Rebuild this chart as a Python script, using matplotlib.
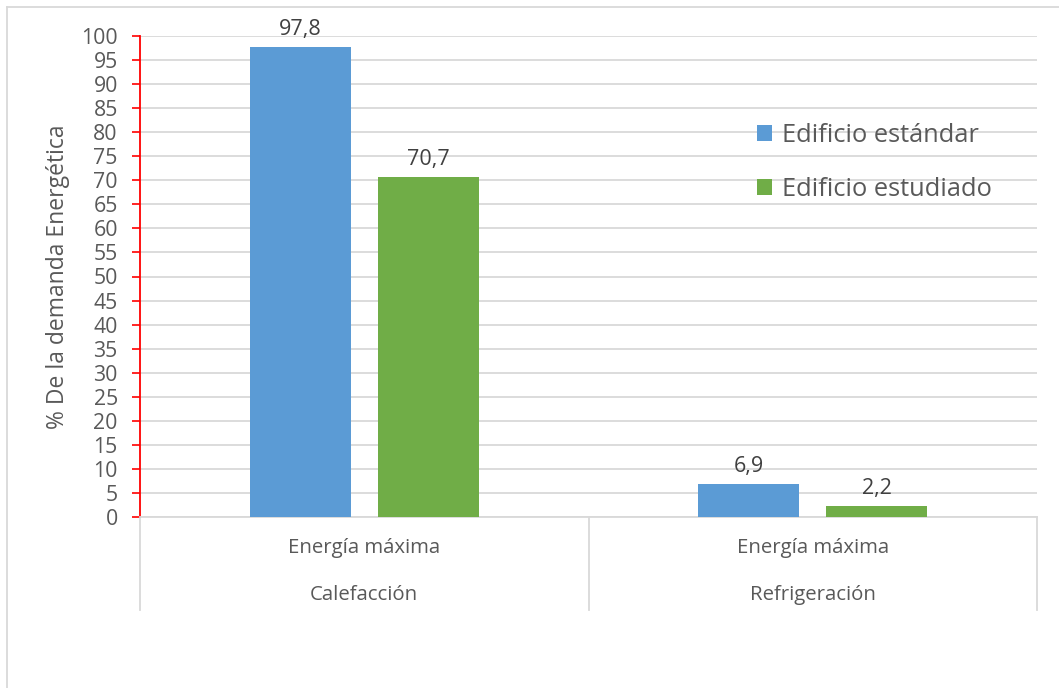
import matplotlib
matplotlib.use("Agg")
import matplotlib.pyplot as plt
from matplotlib.lines import Line2D
import numpy as np

plt.rcParams['font.family'] = ['Open Sans', 'DejaVu Sans']

groups = ["Calefacción", "Refrigeración"]
sublabels = ["Energía máxima", "Energía máxima"]
series_names = ["Edificio estándar", "Edificio estudiado"]
estandar = [97.8, 6.9]
estudiado = [70.7, 2.2]
value_labels_estandar = ["97,8", "6,9"]
value_labels_estudiado = ["70,7", "2,2"]
yticks = list(range(0, 101, 5))

blue = "#5B9BD5"
green = "#70AD47"
txt = "#595959"
grid = "#D9D9D9"

fig = plt.figure(figsize=(10.59, 6.88), dpi=100)
ax = fig.add_axes([140/1059, 171/688, 897/1059, 481/688])

x = np.arange(len(groups))
w = 0.225
off = 0.1425
b1 = ax.bar(x - off, estandar, w, color=blue, label=series_names[0], zorder=3)
b2 = ax.bar(x + off, estudiado, w, color=green, label=series_names[1], zorder=3)

for rect, lab in zip(b1, value_labels_estandar):
    ax.annotate(lab, (rect.get_x() + rect.get_width()/2, rect.get_height()),
                xytext=(0, 5), textcoords="offset points", ha="center", va="bottom",
                fontsize=15.5, color="#404040")
for rect, lab in zip(b2, value_labels_estudiado):
    ax.annotate(lab, (rect.get_x() + rect.get_width()/2, rect.get_height()),
                xytext=(0, 5), textcoords="offset points", ha="center", va="bottom",
                fontsize=15.5, color="#404040")

ax.set_xlim(-0.5, 1.5)
ax.set_ylim(0, 100)
ax.set_yticks(yticks)
ax.set_yticklabels([str(t) for t in yticks], fontsize=15.3, color=txt)
ax.tick_params(axis='y', colors='red', length=6, width=1.2, pad=10, labelcolor=txt)
ax.set_xticks([])
ax.yaxis.grid(True, color=grid, linewidth=1.3, zorder=0)
for s in ["top", "right"]:
    ax.spines[s].set_visible(False)
ax.spines["left"].set_color("red")
ax.spines["left"].set_linewidth(1.3)
ax.spines["bottom"].set_color(grid)
ax.spines["bottom"].set_linewidth(1.3)

ax.set_ylabel("% De la demanda Energética", fontsize=16.5, color=txt, labelpad=8)

# two-level category axis
trans = ax.get_xaxis_transform()
for xs in [-0.5, 0.5, 1.5]:
    ax.add_line(Line2D([xs, xs], [0, -93/481], transform=trans, color=grid,
                       linewidth=1.3, clip_on=False))
for xi, sub, grp in zip(x, sublabels, groups):
    ax.text(xi, -31/481, sub, transform=trans, ha="center", va="center",
            fontsize=14.7, color=txt)
    ax.text(xi, -78/481, grp, transform=trans, ha="center", va="center",
            fontsize=14.7, color=txt)

leg = ax.legend(loc="upper left", bbox_to_anchor=(734/1059, 1 - 100/688),
                bbox_transform=fig.transFigure, frameon=False, fontsize=18.3,
                labelcolor=txt, handlelength=0.6, handleheight=0.6,
                handletextpad=0.4, labelspacing=1.15)

# outer chart border (top and left visible)
fig.add_artist(Line2D([7/1059, 1], [1 - 7/688, 1 - 7/688], transform=fig.transFigure,
                      color=grid, linewidth=1.3))
fig.add_artist(Line2D([7/1059, 7/1059], [0, 1 - 7/688], transform=fig.transFigure,
                      color=grid, linewidth=1.3))

fig.savefig("out.png", dpi=100, facecolor="white")
